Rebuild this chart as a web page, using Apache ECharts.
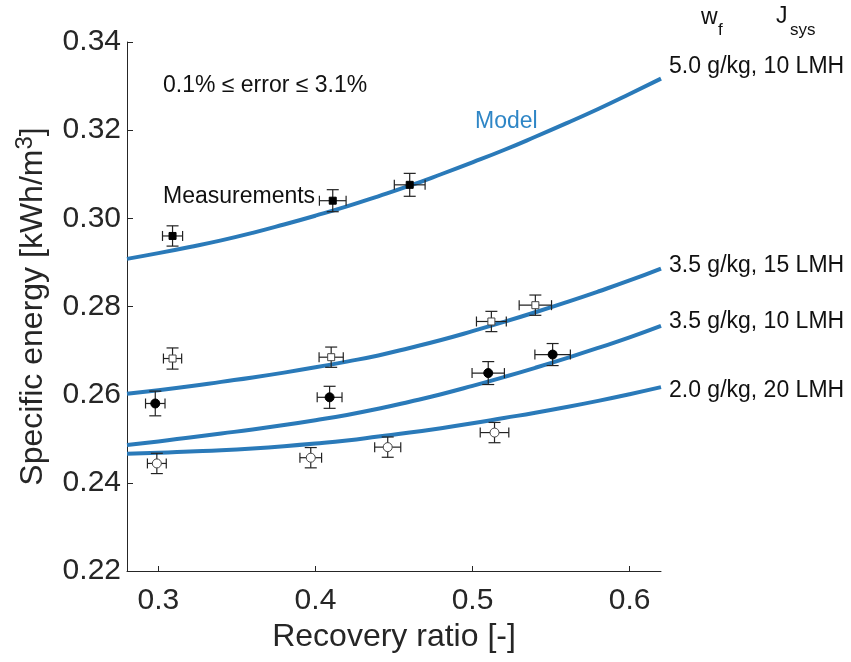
<!DOCTYPE html>
<html>
<head>
<meta charset="utf-8">
<script src="https://cdn.jsdelivr.net/npm/echarts@6/dist/echarts.min.js"></script>
<style>
  html, body { margin: 0; padding: 0; background: #fff; }
  #chart { width: 851px; height: 662px; }
</style>
</head>
<body>
<div id="chart"></div>
<script>
var FONT = '"Liberation Sans", Arial, Helvetica, sans-serif';
var BLUE = '#2a7ab9';
var INK = '#262626';

// model curves
var modelX = [0.28, 0.30, 0.32, 0.34, 0.36, 0.38, 0.40, 0.42, 0.44, 0.46, 0.48, 0.50, 0.52, 0.54, 0.56, 0.58, 0.60, 0.62];
var model50_10 = [0.2908, 0.2921, 0.2935, 0.2950, 0.2967, 0.2986, 0.3006, 0.3027, 0.3050, 0.3074, 0.3100, 0.3127, 0.3155, 0.3185, 0.3216, 0.3248, 0.3282, 0.3317];
var model35_15 = [0.2602, 0.2610, 0.2619, 0.2629, 0.2639, 0.2650, 0.2662, 0.2675, 0.2689, 0.2706, 0.2724, 0.2744, 0.2765, 0.2787, 0.2810, 0.2834, 0.2859, 0.2886];
var model35_10 = [0.2486, 0.2494, 0.2503, 0.2512, 0.2521, 0.2531, 0.2542, 0.2554, 0.2568, 0.2584, 0.2601, 0.2620, 0.2640, 0.2661, 0.2683, 0.2706, 0.2730, 0.2756];
var model20_20 = [0.2466, 0.2468, 0.2471, 0.2474, 0.2478, 0.2483, 0.2489, 0.2496, 0.2505, 0.2514, 0.2524, 0.2535, 0.2547, 0.2559, 0.2572, 0.2586, 0.2601, 0.2617];
var curveNames = ['5.0 g/kg, 10 LMH', '3.5 g/kg, 15 LMH', '3.5 g/kg, 10 LMH', '2.0 g/kg, 20 LMH'];

// measurements: recovery ratio, energy, and half error bars
var m50_10_x = [0.309, 0.411, 0.460];
var m50_10_y = [0.2960, 0.3040, 0.3076];
var m50_10_xe = [0.0064, 0.0085, 0.0098];
var m50_10_ye = [0.0023, 0.0025, 0.0026];

var m35_15_x = [0.309, 0.410, 0.512, 0.540];
var m35_15_y = [0.2682, 0.2685, 0.2766, 0.2803];
var m35_15_xe = [0.0058, 0.0077, 0.0095, 0.0103];
var m35_15_ye = [0.0024, 0.0023, 0.0023, 0.0023];

var m35_10_x = [0.298, 0.409, 0.510, 0.551];
var m35_10_y = [0.2580, 0.2594, 0.2649, 0.2691];
var m35_10_xe = [0.0062, 0.0079, 0.0103, 0.0113];
var m35_10_ye = [0.0028, 0.0025, 0.0026, 0.0025];

var m20_20_x = [0.299, 0.397, 0.446, 0.514];
var m20_20_y = [0.2444, 0.2457, 0.2481, 0.2514];
var m20_20_xe = [0.0060, 0.0069, 0.0083, 0.0091];
var m20_20_ye = [0.0023, 0.0023, 0.0023, 0.0023];

var xTicks = [0.3, 0.4, 0.5, 0.6];

function pairs(xs, ys) {
    return xs.map(function (x, i) { return [x, ys[i]]; });
}

function errRows(xs, ys, xe, ye) {
    return xs.map(function (x, i) { return [x, ys[i], xe[i], ye[i]]; });
}

function renderErr(params, api) {
    var x = api.value(0), y = api.value(1), dx = api.value(2), dy = api.value(3);
    var t = api.coord([x, y + dy]), b = api.coord([x, y - dy]);
    var l = api.coord([x - dx, y]), r = api.coord([x + dx, y]);
    var st = { stroke: '#222', lineWidth: 1.2 };
    var cy = 6, cx = 5;
    function seg(x1, y1, x2, y2) {
        return { type: 'line', shape: { x1: x1, y1: y1, x2: x2, y2: y2 }, style: st };
    }
    return {
        type: 'group',
        children: [
            seg(t[0], t[1], b[0], b[1]),
            seg(t[0] - cy, t[1], t[0] + cy, t[1]),
            seg(b[0] - cy, b[1], b[0] + cy, b[1]),
            seg(l[0], l[1], r[0], r[1]),
            seg(l[0], l[1] - cx, l[0], l[1] + cx),
            seg(r[0], r[1] - cx, r[0], r[1] + cx)
        ]
    };
}

var labelOffsets = [[0, -12], [0, -3], [0, -4], [0, 3]];
var modelSets = [model50_10, model35_15, model35_10, model20_20];

var series = modelSets.map(function (ys, k) {
    return {
        name: curveNames[k],
        type: 'line',
        data: pairs(modelX, ys),
        smooth: true,
        showSymbol: false,
        lineStyle: { color: BLUE, width: 4 },
        z: 2,
        endLabel: {
            show: true,
            formatter: curveNames[k],
            offset: labelOffsets[k],
            color: '#111',
            fontSize: 23,
            fontFamily: FONT
        }
    };
});

var measSets = [
    errRows(m50_10_x, m50_10_y, m50_10_xe, m50_10_ye),
    errRows(m35_15_x, m35_15_y, m35_15_xe, m35_15_ye),
    errRows(m35_10_x, m35_10_y, m35_10_xe, m35_10_ye),
    errRows(m20_20_x, m20_20_y, m20_20_xe, m20_20_ye)
];
measSets.forEach(function (rows) {
    series.push({
        type: 'custom',
        renderItem: renderErr,
        data: rows,
        encode: { x: 0, y: 1 },
        clip: false,
        z: 3
    });
});

var markerStyles = [
    { symbol: 'rect', size: 7, fill: '#000', border: '#000' },
    { symbol: 'rect', size: 7, fill: '#fff', border: '#444' },
    { symbol: 'circle', size: 9, fill: '#000', border: '#000' },
    { symbol: 'circle', size: 9, fill: '#fff', border: '#444' }
];
var measPairs = [
    pairs(m50_10_x, m50_10_y),
    pairs(m35_15_x, m35_15_y),
    pairs(m35_10_x, m35_10_y),
    pairs(m20_20_x, m20_20_y)
];
measPairs.forEach(function (d, k) {
    var s = markerStyles[k];
    series.push({
        type: 'scatter',
        data: d,
        symbol: s.symbol,
        symbolSize: s.size,
        itemStyle: { color: s.fill, borderColor: s.border, borderWidth: 1, opacity: 1 },
        z: 4
    });
});

var option = {
    animation: false,
    backgroundColor: '#fff',
    grid: { left: 127, right: 190, top: 42, bottom: 91 },
    xAxis: {
        type: 'value',
        min: 0.28,
        max: 0.62,
        name: 'Recovery ratio [-]',
        nameLocation: 'middle',
        nameGap: 50,
        nameTextStyle: { fontSize: 32, fontFamily: FONT, color: INK },
        axisLine: { show: true, onZero: false, lineStyle: { color: INK, width: 1 } },
        axisTick: { show: true, inside: true, length: 5, customValues: xTicks, lineStyle: { color: INK } },
        axisLabel: {
            customValues: xTicks,
            margin: 15,
            fontSize: 30,
            fontFamily: FONT,
            color: INK,
            formatter: function (v) { return v.toFixed(1); }
        },
        splitLine: { show: false }
    },
    yAxis: {
        type: 'value',
        min: 0.22,
        max: 0.34,
        interval: 0.02,
        name: '{t|Specific energy [kWh/m}{s|3}{t|]}',
        nameLocation: 'middle',
        nameGap: 74,
        nameRotate: 90,
        nameTextStyle: {
            rich: {
                t: { fontSize: 32, lineHeight: 40, fontFamily: FONT, color: INK },
                s: { fontSize: 24, fontFamily: FONT, color: INK, verticalAlign: 'top' }
            }
        },
        axisLine: { show: true, onZero: false, lineStyle: { color: INK, width: 1 } },
        axisTick: { show: true, inside: true, length: 6, lineStyle: { color: INK } },
        axisLabel: {
            margin: 6,
            fontSize: 30,
            fontFamily: FONT,
            color: INK,
            formatter: function (v) { return v.toFixed(2); }
        },
        splitLine: { show: false }
    },
    graphic: [
        { type: 'text', x: 163, y: 86, style: { text: '0.1% \u2264 error \u2264 3.1%', fill: '#111', fontSize: 23, fontFamily: FONT, verticalAlign: 'middle' } },
        { type: 'text', x: 475, y: 122, style: { text: 'Model', fill: '#2f86c6', fontSize: 23, fontFamily: FONT, verticalAlign: 'middle' } },
        { type: 'text', x: 163, y: 197, style: { text: 'Measurements', fill: '#111', fontSize: 23, fontFamily: FONT, verticalAlign: 'middle' } },
        { type: 'text', x: 701, y: 18, style: { text: 'w', fill: '#111', fontSize: 23, fontFamily: FONT, verticalAlign: 'middle' } },
        { type: 'text', x: 718, y: 30, style: { text: 'f', fill: '#111', fontSize: 17, fontFamily: FONT, verticalAlign: 'middle' } },
        { type: 'text', x: 776, y: 17, style: { text: 'J', fill: '#111', fontSize: 23, fontFamily: FONT, verticalAlign: 'middle' } },
        { type: 'text', x: 790, y: 30, style: { text: 'sys', fill: '#111', fontSize: 17, fontFamily: FONT, verticalAlign: 'middle' } }
    ],
    series: series
};

var chart = echarts.init(document.getElementById('chart'));
chart.setOption(option);
</script>
</body>
</html>
